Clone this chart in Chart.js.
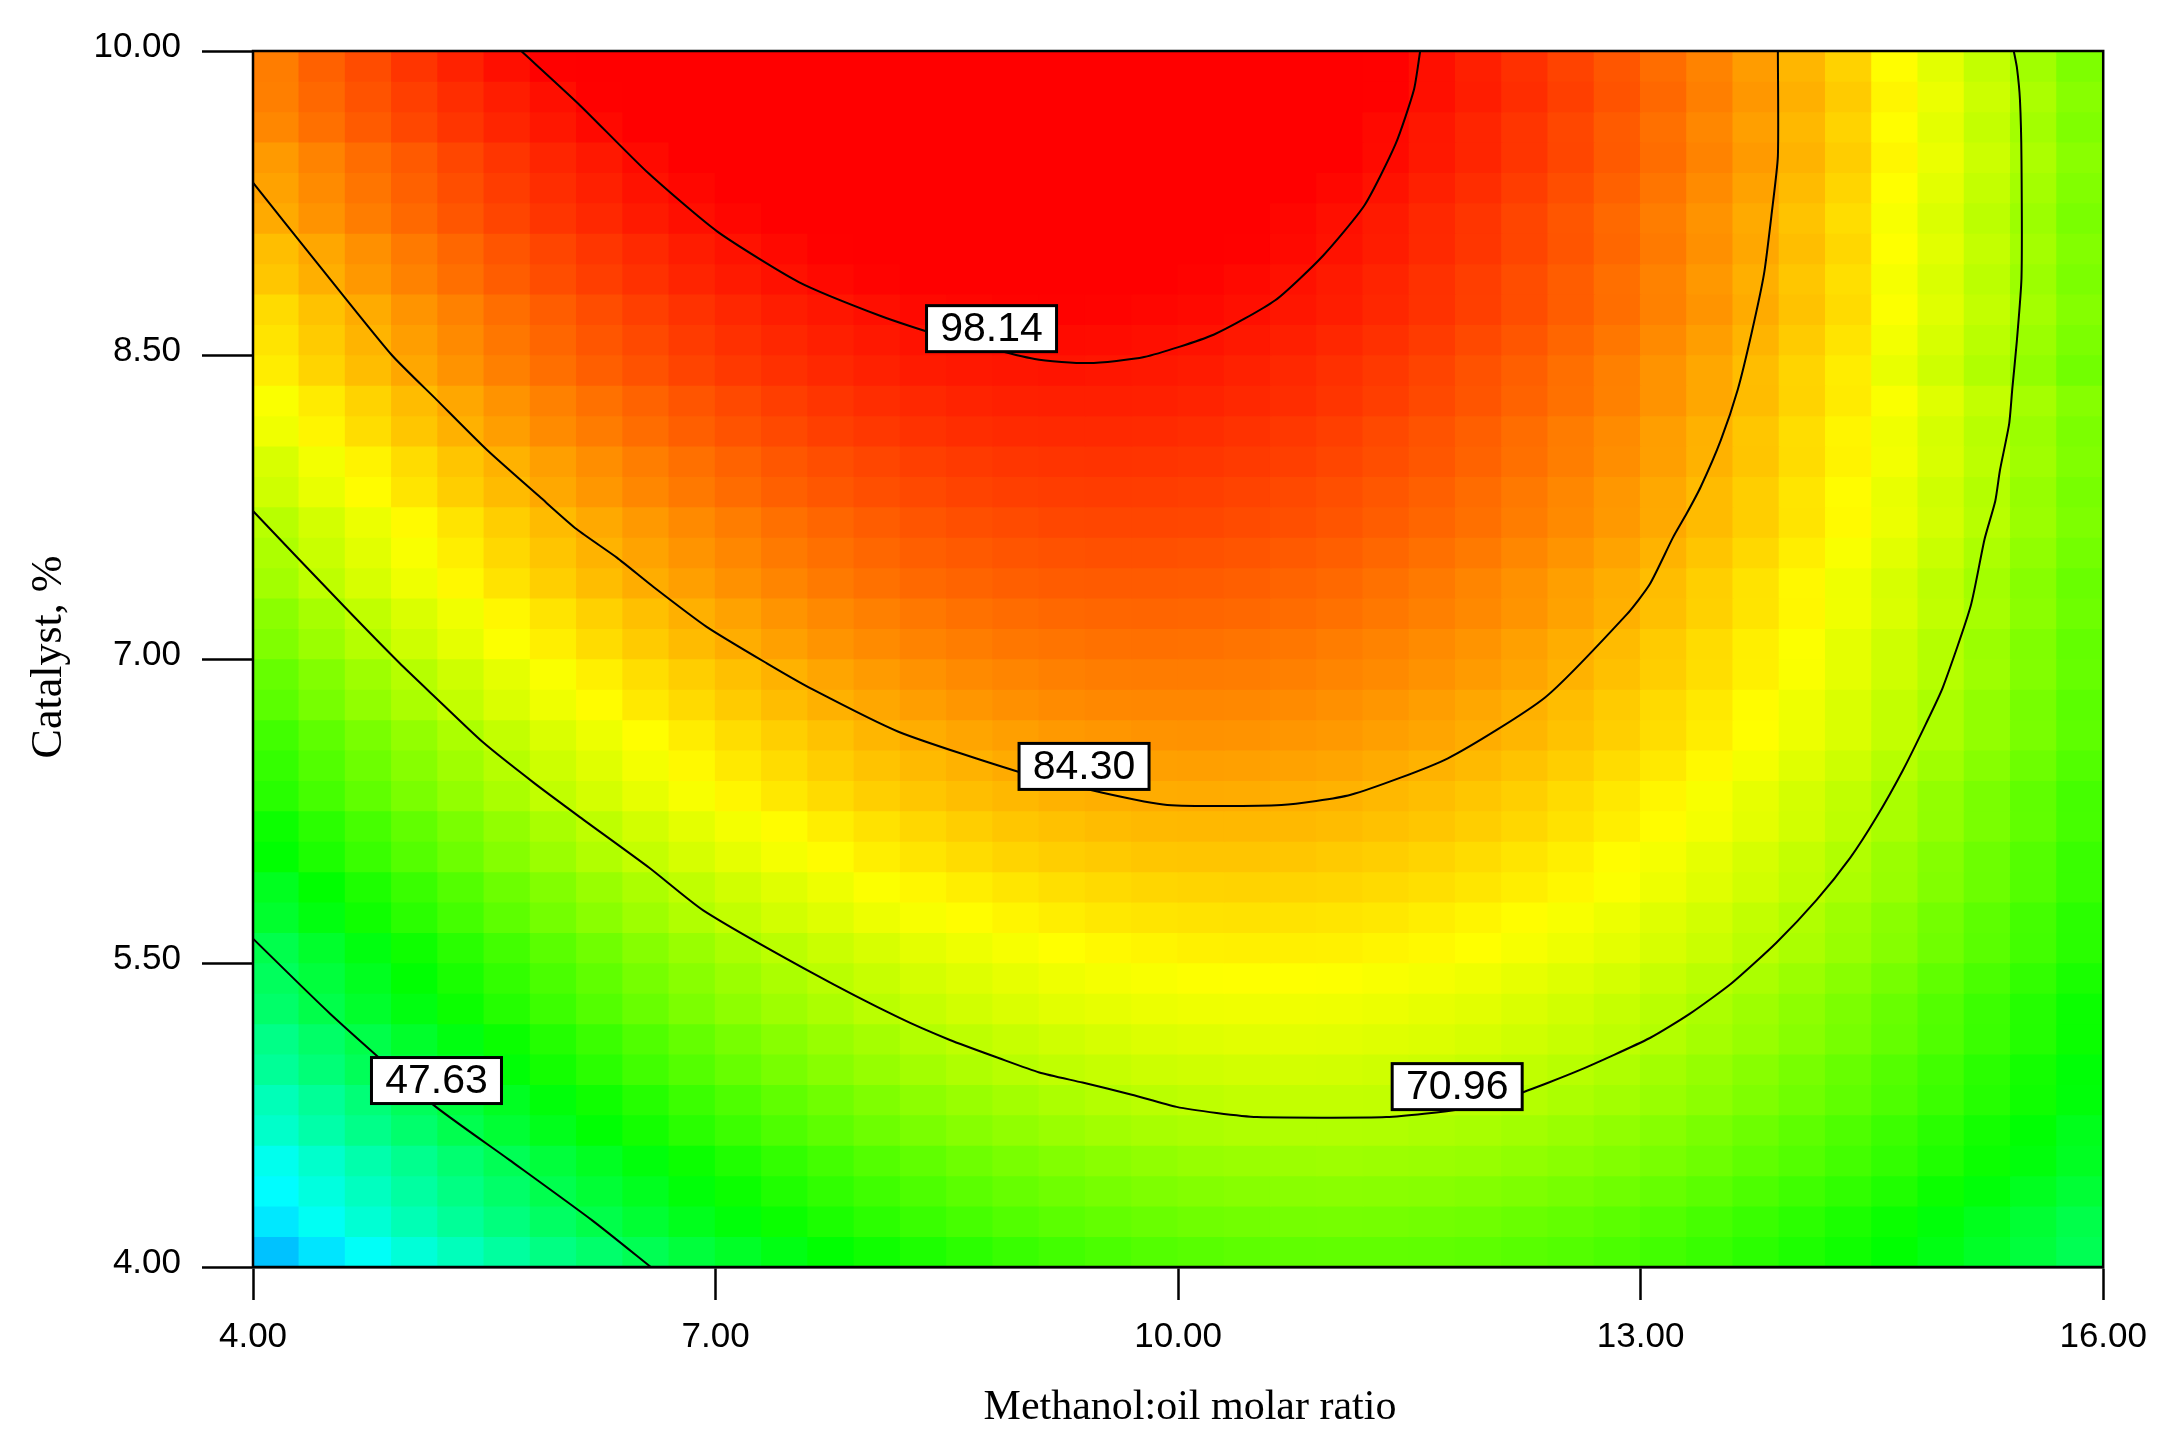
<!DOCTYPE html>
<html lang="en">
<head>
<meta charset="UTF-8">
<title>Methanol:oil molar ratio vs Catalyst contour</title>
<script src="https://cdn.jsdelivr.net/npm/chart.js"></script>
<style>
    html, body { margin: 0; padding: 0; background: #fff; }
    canvas { display: block; }
</style>
</head>
<body>
<canvas id="contourChart" width="2163" height="1441"></canvas>
<script>
// axis ticks
const xTicks = [4, 7, 10, 13, 16];
const yTicks = [4, 5.5, 7, 8.5, 10];
const xTitle = 'Methanol:oil molar ratio';
const yTitle = 'Catalyst, %';

const cellRows = [
    [88.7,91.1,93,95,96.7,98.4,99.6,100.8,101.8,102.6,103.3,103.9,104.4,104.7,104.9,105,104.9,104.7,104.4,103.9,103.3,102.6,101.8,100.8,99.6,98.4,97,95.5,93.8,92.1,90.1,88.1,85.9,83.6,81.2,77.4,74.7,71.9,68.9,65.8],
    [88.5,90.5,92.4,94.1,95.7,97.1,98.4,99.6,100.7,101.6,102.4,103.1,103.6,104,104.3,104.4,104.4,104.3,104,103.6,103.1,102.4,101.6,100.7,99.6,98.4,97.1,95.7,94.1,92.4,90.5,88.5,86.4,84.2,81.8,78.1,75.5,72.7,69.8,66.7],
    [87.8,89.8,91.7,93.4,95,96.4,97.7,98.9,100,100.9,101.7,102.4,102.9,103.3,103.6,103.7,103.7,103.6,103.3,102.9,102.4,101.7,100.9,100,98.9,97.7,96.4,95,93.4,91.7,89.8,87.8,85.7,83.5,81.1,77.4,74.8,72,69.1,66],
    [86.1,88.1,90.1,91.8,93.5,95,96.4,97.6,98.8,99.8,100.6,101.3,101.9,102.4,102.7,102.9,103,102.9,102.7,102.4,101.9,101.3,100.6,99.8,98.8,97.6,96.4,95,93.5,91.8,90.1,88.1,86.1,83.9,81.6,78,75.4,72.7,69.9,66.9],
    [85.4,87.4,89.4,91.1,92.8,94.3,95.7,96.9,98.1,99.1,99.9,100.6,101.2,101.7,102,102.2,102.3,102.2,102,101.7,101.2,100.6,99.9,99.1,98.1,96.9,95.7,94.3,92.8,91.1,89.4,87.4,85.4,83.2,80.9,77.3,74.7,72,69.2,66.2],
    [84.7,86.7,88.7,90.4,92.1,93.6,95,96.2,97.4,98.4,99.2,99.9,100.5,101,101.3,101.5,101.6,101.5,101.3,101,100.5,99.9,99.2,98.4,97.4,96.2,95,93.6,92.1,90.4,88.7,86.7,84.7,82.5,80.2,76.6,74,71.3,68.5,65.5],
    [82.9,85,87,88.9,90.6,92.2,93.6,94.9,96.1,97.2,98.1,98.9,99.6,100.1,100.5,100.8,100.9,100.9,100.8,100.5,100.1,99.6,98.9,98.1,97.2,96.1,94.9,93.6,92.2,90.6,88.9,87,85,82.9,80.7,77.1,74.6,72,69.2,66.3],
    [82.2,84.3,86.3,88.2,89.9,91.5,92.9,94.2,95.4,96.5,97.4,98.2,98.9,99.4,99.8,100.1,100.2,100.2,100.1,99.8,99.4,98.9,98.2,97.4,96.5,95.4,94.2,92.9,91.5,89.9,88.2,86.3,84.3,82.2,80,76.4,73.9,71.3,68.5,65.6],
    [80.4,82.6,84.6,86.6,88.3,90,91.5,92.9,94.1,95.3,96.3,97.1,97.8,98.4,98.9,99.2,99.4,99.5,99.4,99.2,98.9,98.4,97.8,97.1,96.3,95.3,94.1,92.9,91.5,90,88.3,86.6,84.6,82.6,80.4,76.9,74.5,71.9,69.2,66.4],
    [79.6,81.8,83.8,85.8,87.5,89.2,90.7,92.1,93.3,94.5,95.5,96.3,97,97.6,98.1,98.4,98.6,98.7,98.6,98.4,98.1,97.6,97,96.3,95.5,94.5,93.3,92.1,90.7,89.2,87.5,85.8,83.8,81.8,79.6,76.1,73.7,71.1,68.4,65.6],
    [78.8,81,83,85,86.7,88.4,89.9,91.3,92.5,93.7,94.7,95.5,96.2,96.8,97.3,97.6,97.8,97.9,97.8,97.6,97.3,96.8,96.2,95.5,94.7,93.7,92.5,91.3,89.9,88.4,86.7,85,83,81,78.8,75.3,72.9,70.3,67.6,64.8],
    [76.8,79,81.1,83.1,85,86.7,88.3,89.7,91,92.2,93.3,94.2,95,95.7,96.2,96.6,96.9,97,97,96.9,96.6,96.2,95.7,95,94.2,93.3,92.2,91,89.7,88.3,86.7,85,83.1,81.1,79,76.8,74.4,71.9,69.3,66.5],
    [75.9,78.1,80.2,82.2,84.1,85.8,87.4,88.8,90.1,91.3,92.4,93.3,94.1,94.8,95.3,95.7,96,96.1,96.1,96,95.7,95.3,94.8,94.1,93.3,92.4,91.3,90.1,88.8,87.4,85.8,84.1,82.2,80.2,78.1,75.9,73.5,71,68.4,65.6],
    [73.8,76.1,78.3,80.3,82.3,84,85.7,87.2,88.6,89.8,91,92,92.8,93.5,94.1,94.6,94.9,95.1,95.2,95.1,94.9,94.6,94.1,93.5,92.8,92,91,89.8,88.6,87.2,85.7,84,82.3,80.3,78.3,76.1,73.8,71.4,68.8,66.1],
    [73,75.3,77.5,79.5,81.5,83.2,84.9,86.4,87.8,89,90.2,91.2,92,92.7,93.3,93.8,94.1,94.3,94.4,94.3,94.1,93.8,93.3,92.7,92,91.2,90.2,89,87.8,86.4,84.9,83.2,81.5,79.5,77.5,75.3,73,70.6,68,65.3],
    [70.9,73.3,75.5,77.6,79.6,81.5,83.2,84.8,86.2,87.5,88.7,89.8,90.7,91.5,92.2,92.7,93.1,93.4,93.5,93.5,93.4,93.1,92.7,92.2,91.5,90.7,89.8,88.7,87.5,86.2,84.8,83.2,81.5,79.6,77.6,75.5,73.3,70.9,68.4,65.8],
    [70,72.4,74.6,76.7,78.7,80.6,82.3,83.9,85.3,86.6,87.8,88.9,89.8,90.6,91.3,91.8,92.2,92.5,92.6,92.6,92.5,92.2,91.8,91.3,90.6,89.8,88.9,87.8,86.6,85.3,83.9,82.3,80.6,78.7,76.7,74.6,72.4,70,67.5,64.9],
    [69.1,71.5,73.7,75.8,77.8,79.7,81.4,83,84.4,85.7,86.9,88,88.9,89.7,90.4,90.9,91.3,91.6,91.7,91.7,91.6,91.3,90.9,90.4,89.7,88.9,88,86.9,85.7,84.4,83,81.4,79.7,77.8,75.8,73.7,71.5,69.1,66.6,64],
    [67,69.4,71.7,73.9,75.9,77.9,79.6,81.3,82.8,84.2,85.4,86.6,87.6,88.4,89.1,89.7,90.2,90.5,90.7,90.8,90.7,90.5,90.2,89.7,89.1,88.4,87.6,86.6,85.4,84.2,82.8,81.3,79.6,77.9,75.9,73.9,71.7,69.4,67,64.4],
    [66,68.4,70.7,72.9,74.9,76.9,78.6,80.3,81.8,83.2,84.4,85.6,86.6,87.4,88.1,88.7,89.2,89.5,89.7,89.8,89.7,89.5,89.2,88.7,88.1,87.4,86.6,85.6,84.4,83.2,81.8,80.3,78.6,76.9,74.9,72.9,70.7,68.4,66,63.4],
    [63.7,66.2,68.6,70.8,72.9,74.9,76.8,78.5,80.1,81.5,82.8,84,85.1,86,86.8,87.5,88,88.4,88.7,88.8,88.8,88.7,88.4,88,87.5,86.8,86,85.1,84,82.8,81.5,80.1,78.5,76.8,74.9,72.9,70.8,68.6,66.2,63.7],
    [62.7,65.2,67.6,69.8,71.9,73.9,75.8,77.5,79.1,80.5,81.8,83,84.1,85,85.8,86.5,87,87.4,87.7,87.8,87.8,87.7,87.4,87,86.5,85.8,85,84.1,83,81.8,80.5,79.1,77.5,75.8,73.9,71.9,69.8,67.6,65.2,62.7],
    [60.4,63,65.4,67.7,69.9,71.9,73.9,75.6,77.3,78.8,80.2,81.4,82.6,83.6,84.4,85.1,85.7,86.2,86.5,86.7,86.8,86.7,86.5,86.2,85.7,85.1,84.4,83.6,82.6,81.4,80.2,78.8,77.3,75.6,73.9,71.9,69.9,67.7,65.4,63],
    [59.3,61.9,64.3,66.6,68.8,70.8,72.8,74.5,76.2,77.7,79.1,80.3,81.5,82.5,83.3,84,84.6,85.1,85.4,85.6,85.7,85.6,85.4,85.1,84.6,84,83.3,82.5,81.5,80.3,79.1,77.7,76.2,74.5,72.8,70.8,68.8,66.6,64.3,61.9],
    [58.2,60.8,63.2,65.5,67.7,69.7,71.7,73.4,75.1,76.6,78,79.2,80.4,81.4,82.2,82.9,83.5,84,84.3,84.5,84.6,84.5,84.3,84,83.5,82.9,82.2,81.4,80.4,79.2,78,76.6,75.1,73.4,71.7,69.7,67.7,65.5,63.2,60.8],
    [55.8,58.4,60.9,63.3,65.5,67.6,69.6,71.5,73.2,74.8,76.2,77.5,78.7,79.8,80.7,81.5,82.2,82.7,83.1,83.4,83.5,83.5,83.4,83.1,82.7,82.2,81.5,80.7,79.8,78.7,77.5,76.2,74.8,73.2,71.5,69.6,67.6,65.5,63.3,60.9],
    [54.6,57.2,59.7,62.1,64.3,66.4,68.4,70.3,72,73.6,75,76.3,77.5,78.6,79.5,80.3,81,81.5,81.9,82.2,82.3,82.3,82.2,81.9,81.5,81,80.3,79.5,78.6,77.5,76.3,75,73.6,72,70.3,68.4,66.4,64.3,62.1,59.7],
    [52,54.7,57.3,59.7,62,64.2,66.2,68.2,69.9,71.6,73.1,74.5,75.7,76.9,77.9,78.7,79.4,80,80.5,80.8,81,81.1,81,80.8,80.5,80,79.4,78.7,77.9,76.9,75.7,74.5,73.1,71.6,69.9,68.2,66.2,64.2,62,59.7],
    [50.7,53.4,56,58.4,60.7,62.9,64.9,66.9,68.6,70.3,71.8,73.2,74.4,75.6,76.6,77.4,78.1,78.7,79.2,79.5,79.7,79.8,79.7,79.5,79.2,78.7,78.1,77.4,76.6,75.6,74.4,73.2,71.8,70.3,68.6,66.9,64.9,62.9,60.7,58.4],
    [48,50.8,53.4,55.9,58.3,60.5,62.6,64.6,66.5,68.2,69.8,71.2,72.5,73.7,74.8,75.7,76.5,77.2,77.7,78.1,78.4,78.5,78.5,78.4,78.1,77.7,77.2,76.5,75.7,74.8,73.7,72.5,71.2,69.8,68.2,66.5,64.6,62.6,60.5,58.3],
    [46.6,49.4,52,54.5,56.9,59.1,61.2,63.2,65.1,66.8,68.4,69.8,71.1,72.3,73.4,74.3,75.1,75.8,76.3,76.7,77,77.1,77.1,77,76.7,76.3,75.8,75.1,74.3,73.4,72.3,71.1,69.8,68.4,66.8,65.1,63.2,61.2,59.1,56.9],
    [45.4,48.2,50.8,53.3,55.7,57.9,60,62,63.9,65.6,67.2,68.6,69.9,71.1,72.2,73.1,73.9,74.6,75.1,75.5,75.8,75.9,75.9,75.8,75.5,75.1,74.6,73.9,73.1,72.2,71.1,69.9,68.6,67.2,65.6,63.9,62,60,57.9,55.7],
    [42.8,45.6,48.3,50.9,53.3,55.6,57.8,59.8,61.8,63.5,65.2,66.7,68.1,69.3,70.5,71.5,72.3,73,73.6,74.1,74.4,74.6,74.7,74.6,74.4,74.1,73.6,73,72.3,71.5,70.5,69.3,68.1,66.7,65.2,63.5,61.8,59.8,57.8,55.6],
    [41.4,44.2,46.9,49.5,51.9,54.2,56.4,58.4,60.4,62.1,63.8,65.3,66.7,67.9,69.1,70.1,70.9,71.6,72.2,72.7,73,73.2,73.3,73.2,73,72.7,72.2,71.6,70.9,70.1,69.1,67.9,66.7,65.3,63.8,62.1,60.4,58.4,56.4,54.2],
    [38.5,41.4,44.2,46.8,49.3,51.7,53.9,56,58,59.9,61.6,63.2,64.6,65.9,67.1,68.2,69.1,69.9,70.6,71.1,71.5,71.8,71.9,71.9,71.8,71.5,71.1,70.6,69.9,69.1,68.2,67.1,65.9,64.6,63.2,61.6,59.9,58,56,53.9],
    [36.9,39.8,42.6,45.2,47.7,50.1,52.3,54.4,56.4,58.3,60,61.6,63,64.3,65.5,66.6,67.5,68.3,69,69.5,69.9,70.2,70.3,70.3,70.2,69.9,69.5,69,68.3,67.5,66.6,65.5,64.3,63,61.6,60,58.3,56.4,54.4,52.3],
    [33.7,36.7,39.5,42.2,44.8,47.2,49.5,51.7,53.7,55.7,57.4,59.1,60.6,62,63.2,64.4,65.4,66.2,66.9,67.5,68,68.3,68.5,68.6,68.5,68.3,68,67.5,66.9,66.2,65.4,64.4,63.2,62,60.6,59.1,57.4,55.7,53.7,51.7],
    [32,35,37.8,40.5,43.1,45.5,47.8,50,52,54,55.7,57.4,58.9,60.3,61.5,62.7,63.7,64.5,65.2,65.8,66.3,66.6,66.8,66.9,66.8,66.6,66.3,65.8,65.2,64.5,63.7,62.7,61.5,60.3,58.9,57.4,55.7,54,52,50],
    [30.2,33.2,36,38.7,41.3,43.7,46,48.2,50.2,52.2,53.9,55.6,57.1,58.5,59.7,60.9,61.9,62.7,63.4,64,64.5,64.8,65,65.1,65,64.8,64.5,64,63.4,62.7,61.9,60.9,59.7,58.5,57.1,55.6,53.9,52.2,50.2,48.2],
    [26.8,29.9,32.8,35.6,38.2,40.7,43.1,45.3,47.4,49.4,51.3,53,54.6,56,57.3,58.5,59.6,60.5,61.3,62,62.5,62.9,63.2,63.3,63.3,63.2,62.9,62.5,62,61.3,60.5,59.6,58.5,57.3,56,54.6,53,51.3,49.4,47.4]
];

// contour lines
const contour98X = [5.74,6.11,6.56,7.01,7.54,8.08,8.44,9.07,9.42,9.78,10.23,10.63,10.94,11.21,11.41,11.53,11.57];
const contour98Y = [10,9.74,9.40,9.11,8.86,8.69,8.60,8.48,8.46,8.49,8.60,8.77,8.99,9.24,9.54,9.81,10];
const contour84X = [4,4.41,4.90,5.19,5.52,5.86,6.10,6.36,6.59,6.94,7.33,7.63,8.19,8.98,9.51,9.93,10.67,11.12,11.75,12.38,12.91,13.06,13.21,13.30,13.39,13.52,13.63,13.72,13.80,13.85,13.89,13.89];
const contour84Y = [9.35,8.96,8.50,8.28,8.03,7.80,7.64,7.50,7.36,7.16,6.98,6.85,6.64,6.44,6.34,6.28,6.28,6.33,6.51,6.81,7.22,7.37,7.60,7.72,7.85,8.08,8.33,8.61,8.90,9.20,9.48,10];
const contour71X = [4,4.59,4.95,5.17,5.49,5.82,6.12,6.57,6.92,7.63,8.19,8.52,8.84,9.10,9.38,9.70,9.99,10.25,10.51,11.35,11.84,12.19,12.60,13.06,13.32,13.59,13.88,14.14,14.36,14.53,14.70,14.85,14.96,15.14,15.23,15.30,15.33,15.39,15.41,15.44,15.47,15.47,15.46,15.44,15.42];
const contour71Y = [7.73,7.26,6.98,6.82,6.59,6.39,6.22,5.97,5.76,5.45,5.23,5.12,5.03,4.96,4.91,4.85,4.79,4.76,4.74,4.74,4.78,4.85,4.97,5.13,5.25,5.40,5.60,5.81,6.02,6.22,6.45,6.68,6.86,7.26,7.59,7.78,7.93,8.16,8.33,8.57,8.88,9.46,9.76,9.92,10];
const contour48X = [4,4.50,5.17,5.66,6.20,6.58];
const contour48Y = [5.62,5.25,4.80,4.53,4.23,4];

// contour labels
const labelTexts = ['98.14', '84.30', '70.96', '47.63'];
const labelX = [8.79, 9.39, 11.81, 5.19];
const labelY = [8.63, 6.47, 4.89, 4.92];

// colour ramp of the surface: blue, cyan, green, yellow, red
const rampValues = [9.7, 32.2, 54.7, 77.2, 99.7];
const rampColors = [[0,0,255],[0,255,255],[0,255,0],[255,255,0],[255,0,0]];

function colorFor(v) {
    if (v >= rampValues[4]) return 'rgb(255,0,0)';
    let k = 0;
    while (k < 3 && v > rampValues[k + 1]) k++;
    const t = (v - rampValues[k]) / (rampValues[k + 1] - rampValues[k]);
    const c = rampColors[k].map((a, n) => Math.round(a + (rampColors[k + 1][n] - a) * t));
    return `rgb(${c[0]},${c[1]},${c[2]})`;
}

const xMin = xTicks[0], xMax = xTicks[xTicks.length - 1];
const yMin = yTicks[0], yMax = yTicks[yTicks.length - 1];
const cellW = (xMax - xMin) / cellRows[0].length;
const cellH = (yMax - yMin) / cellRows.length;

// one floating bar series per row of cells
const cellSets = cellRows.map((row, j) => ({
    type: 'bar',
    order: 2,
    grouped: false,
    barThickness: 47,
    borderWidth: 0,
    data: row.map((v, i) => ({
        x: xMin + cellW * (i + 0.5),
        y: [yMax - cellH * (j + 1), yMax - cellH * j]
    })),
    backgroundColor: row.map(colorFor)
}));

function contourSet(xs, ys) {
    return {
        type: 'scatter',
        order: 1,
        showLine: true,
        pointRadius: 0,
        borderColor: '#000',
        borderWidth: 2,
        tension: 0.2,
        data: xs.map((x, i) => ({ x: x, y: ys[i] }))
    };
}

// frame on top of the cells, then the boxed labels and the axis titles
const overlayPlugin = {
    id: 'overlay',
    afterDatasetsDraw(chart) {
        const { ctx, chartArea: a, scales } = chart;
        ctx.save();
        ctx.strokeStyle = '#000';
        ctx.lineWidth = 2.5;
        ctx.strokeRect(a.left, a.top, a.right - a.left, a.bottom - a.top);

        ctx.font = '41px "Liberation Sans"';
        ctx.textAlign = 'center';
        ctx.textBaseline = 'middle';
        labelTexts.forEach((t, i) => {
            const px = scales.x.getPixelForValue(labelX[i]);
            const py = scales.y.getPixelForValue(labelY[i]);
            ctx.fillStyle = '#fff';
            ctx.fillRect(px - 65, py - 23, 130, 46);
            ctx.lineWidth = 3;
            ctx.strokeRect(px - 65, py - 23, 130, 46);
            ctx.fillStyle = '#000';
            ctx.fillText(t, px, py + 1);
        });

        ctx.font = '42px "Liberation Serif"';
        ctx.fillText(xTitle, 1190, 1408);
        ctx.font = '44px "Liberation Serif"';
        ctx.translate(49, 657);
        ctx.rotate(-Math.PI / 2);
        ctx.fillText(yTitle, 0, 0);
        ctx.restore();
    }
};

new Chart(document.getElementById('contourChart'), {
    type: 'bar',
    data: {
        datasets: cellSets.concat([
            contourSet(contour98X, contour98Y),
            contourSet(contour84X, contour84Y),
            contourSet(contour71X, contour71Y),
            contourSet(contour48X, contour48Y)
        ])
    },
    options: {
        responsive: false,
        animation: false,
        events: [],
        layout: { autoPadding: false, padding: { top: 51, right: 59, left: 0, bottom: 0 } },
        plugins: { legend: { display: false }, tooltip: { enabled: false } },
        scales: {
            x: {
                type: 'linear',
                offset: false,
                min: xMin,
                max: xMax,
                afterFit(scale) { scale.height = 174; },
                afterBuildTicks(scale) { scale.ticks = xTicks.map(v => ({ value: v })); },
                grid: { offset: false, drawOnChartArea: false, tickLength: 33, tickWidth: 2.5, tickColor: '#000' },
                border: { display: true, color: '#000', width: 2.5 },
                ticks: {
                    padding: 16,
                    maxRotation: 0,
                    color: '#000',
                    font: { family: '"Liberation Sans"', size: 35 },
                    callback: v => v.toFixed(2)
                }
            },
            y: {
                type: 'linear',
                min: yMin,
                max: yMax,
                afterFit(scale) { scale.width = 253; },
                afterBuildTicks(scale) { scale.ticks = yTicks.map(v => ({ value: v })); },
                grid: { drawOnChartArea: false, tickLength: 51, tickWidth: 2.5, tickColor: '#000' },
                border: { display: true, color: '#000', width: 2.5 },
                ticks: {
                    padding: 21,
                    labelOffset: -4,
                    color: '#000',
                    font: { family: '"Liberation Sans"', size: 35 },
                    callback: v => v.toFixed(2)
                }
            }
        }
    },
    plugins: [overlayPlugin]
});
</script>
</body>
</html>
